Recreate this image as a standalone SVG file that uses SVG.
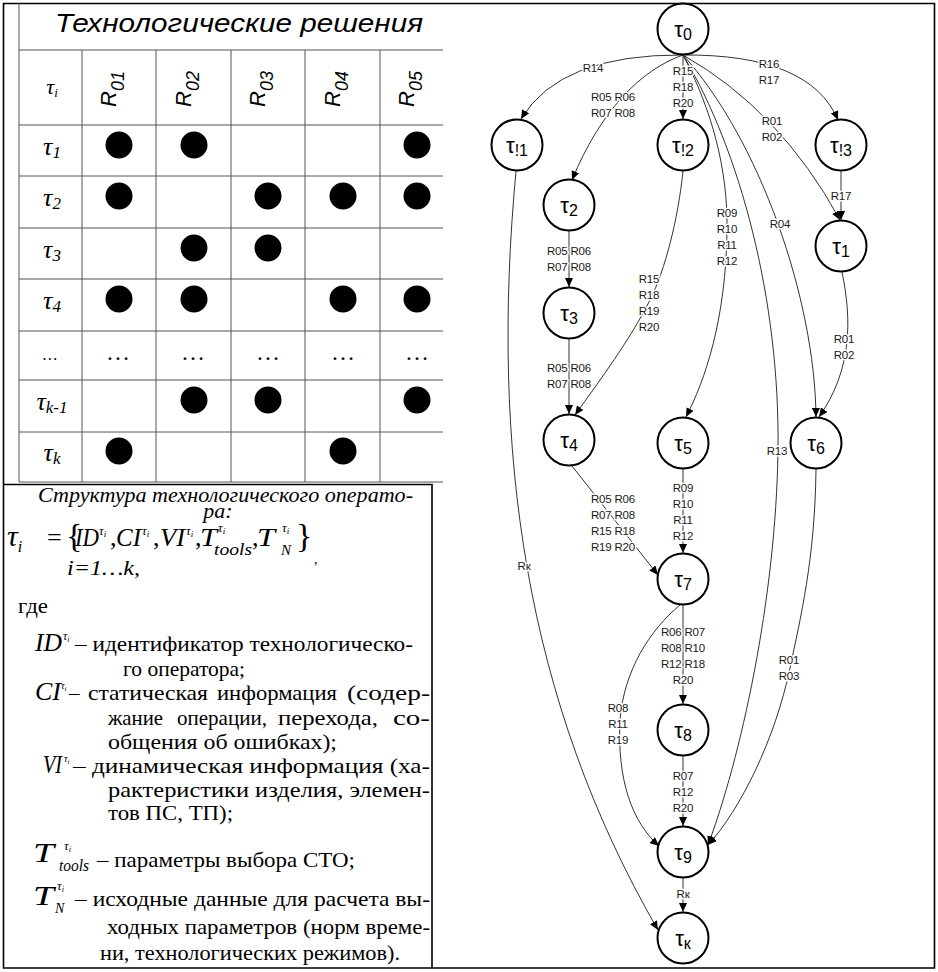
<svg xmlns="http://www.w3.org/2000/svg" width="938" height="972" viewBox="0 0 938 972">
<style>
.frame{fill:none;stroke:#000;stroke-width:1.6}
.grid{stroke:#555;stroke-width:1;fill:none}
.dot{fill:#000}
.hdr{font-family:"Liberation Sans",Arial,sans-serif;font-style:italic;fill:#000}
.rowl{font-family:"Liberation Serif","Times New Roman",serif;font-style:italic;fill:#000;text-anchor:middle}
.tm{font-family:"Liberation Serif","Times New Roman",serif;fill:#000}
.tm text{font-size:21px}
.it{font-style:italic}
.up{font-style:normal}
.node circle{fill:#fff;stroke:#000;stroke-width:2}
.node text{font-family:"Liberation Sans",Arial,sans-serif;font-size:22px;text-anchor:middle;fill:#000}
.edge{fill:none;stroke:#333;stroke-width:1;marker-end:url(#ah)}
.lbl{font-family:"Liberation Sans",Arial,sans-serif;font-size:11.5px;letter-spacing:-0.2px;text-anchor:middle;fill:#1a1a1a;paint-order:stroke;stroke:#fff;stroke-width:3px;stroke-linejoin:round}
</style>
<defs>
<marker id="ah" markerUnits="userSpaceOnUse" markerWidth="10" markerHeight="8" refX="9" refY="4" orient="auto">
<path d="M0,0 L9,4 L0,8 z" fill="#000"/>
</marker>
</defs>
<rect x="0" y="0" width="938" height="972" fill="#fff"/>

<!-- outer frame -->
<g id="frame">
<path class="frame" d="M3.5,3.5 H934.5 V968 H3.5 Z"/>
<path class="frame" d="M3.5,484.5 H432 V968"/>
</g>

<!-- table -->
<g id="table">
<text class="hdr" x="55" y="32" font-size="26" textLength="368" lengthAdjust="spacingAndGlyphs">Технологические решения</text>
<g class="grid">
<path d="M19,50 H443 M19,125 H443 M19,176 H443 M19,228 H443 M19,279 H443 M19,331 H443 M19,380 H443 M19,432 H443 M19,482 H443"/>
<path d="M19,3 V482 M82,50 V482 M156,50 V482 M231,50 V482 M305,50 V482 M380,50 V482"/>
</g>
<text class="rowl" x="52" y="94" font-size="22">τ<tspan font-size="13" dy="3">i</tspan></text>
<g class="hdr">
<text transform="translate(116,107) rotate(-90)" font-size="22">R<tspan font-size="18" dy="8">01</tspan></text>
<text transform="translate(191,107) rotate(-90)" font-size="22">R<tspan font-size="18" dy="8">02</tspan></text>
<text transform="translate(265,107) rotate(-90)" font-size="22">R<tspan font-size="18" dy="8">03</tspan></text>
<text transform="translate(340,107) rotate(-90)" font-size="22">R<tspan font-size="18" dy="8">04</tspan></text>
<text transform="translate(414,107) rotate(-90)" font-size="22">R<tspan font-size="18" dy="8">05</tspan></text>
</g>
<text class="rowl" x="52" y="155" font-size="26">τ<tspan font-size="17" dy="3">1</tspan></text>
<text class="rowl" x="52" y="206" font-size="26">τ<tspan font-size="17" dy="3">2</tspan></text>
<text class="rowl" x="52" y="258" font-size="26">τ<tspan font-size="17" dy="3">3</tspan></text>
<text class="rowl" x="52" y="309" font-size="26">τ<tspan font-size="17" dy="3">4</tspan></text>
<text class="rowl" x="50" y="360" font-size="16">…</text>
<text class="rowl" x="52" y="410" font-size="26">τ<tspan font-size="17" dy="3">k-1</tspan></text>
<text class="rowl" x="52" y="461" font-size="26">τ<tspan font-size="17" dy="3">k</tspan></text>
<g class="rowl up" font-size="24">
<text x="118" y="360">…</text><text x="193" y="360">…</text><text x="268" y="360">…</text><text x="343" y="360">…</text><text x="417" y="360">…</text>
</g>
<g class="dot">
<circle cx="119" cy="145" r="13.5"/><circle cx="194" cy="145" r="13.5"/><circle cx="417" cy="145" r="13.5"/>
<circle cx="119" cy="196" r="13.5"/><circle cx="268" cy="196" r="13.5"/><circle cx="343" cy="196" r="13.5"/><circle cx="417" cy="196" r="13.5"/>
<circle cx="194" cy="248" r="13.5"/><circle cx="268" cy="248" r="13.5"/>
<circle cx="119" cy="299" r="13.5"/><circle cx="194" cy="299" r="13.5"/><circle cx="343" cy="299" r="13.5"/><circle cx="417" cy="299" r="13.5"/>
<circle cx="194" cy="400" r="13.5"/><circle cx="268" cy="400" r="13.5"/><circle cx="417" cy="400" r="13.5"/>
<circle cx="119" cy="451" r="13.5"/><circle cx="343" cy="451" r="13.5"/>
</g>
</g>

<!-- description text -->
<g id="description" class="tm">
<text class="it" x="38" y="502" style="font-size:22px" textLength="375" lengthAdjust="spacingAndGlyphs">Структура технологического операто-</text>
<text class="it" x="218" y="518" style="font-size:22px" text-anchor="middle">ра:</text>

<text class="it" x="7" y="546" style="font-size:30px">τ<tspan font-size="16" dy="6">i</tspan></text>
<text x="47" y="546" style="font-size:26px">=</text>
<text x="66" y="547" style="font-size:34px">{</text>
<text class="it" x="75" y="546" style="font-size:26px" textLength="24" lengthAdjust="spacingAndGlyphs">ID</text>
<text class="it" x="99" y="535" style="font-size:13px">τ<tspan font-size="9" dy="2">i</tspan></text>
<text x="110" y="546" style="font-size:26px">,</text>
<text class="it" x="116" y="546" style="font-size:26px" textLength="25" lengthAdjust="spacingAndGlyphs">CI</text>
<text class="it" x="142" y="535" style="font-size:13px">τ<tspan font-size="9" dy="2">i</tspan></text>
<text x="153" y="546" style="font-size:26px">,</text>
<text class="it" x="160" y="546" style="font-size:26px" textLength="25" lengthAdjust="spacingAndGlyphs">VI</text>
<text class="it" x="186" y="535" style="font-size:13px">τ<tspan font-size="9" dy="2">i</tspan></text>
<text x="195" y="546" style="font-size:26px">,</text>
<text class="it" x="200" y="546" style="font-size:26px" textLength="17" lengthAdjust="spacingAndGlyphs">T</text>
<text class="it" x="218" y="532" style="font-size:13px">τ<tspan font-size="9" dy="2">i</tspan></text>
<text class="it" x="214" y="555" style="font-size:16px" textLength="38" lengthAdjust="spacingAndGlyphs">tools</text>
<text x="252" y="546" style="font-size:26px">,</text>
<text class="it" x="257" y="546" style="font-size:26px" textLength="18" lengthAdjust="spacingAndGlyphs">T</text>
<text class="it" x="282" y="532" style="font-size:13px">τ<tspan font-size="9" dy="2">i</tspan></text>
<text class="it" x="281" y="555" style="font-size:15px">N</text>
<text x="296" y="547" style="font-size:34px">}</text>
<text x="314" y="564" style="font-size:14px">,</text>

<text class="it" x="67" y="575" style="font-size:22px" textLength="73" lengthAdjust="spacingAndGlyphs">i=1…k,</text>
<text x="18" y="613" textLength="30" lengthAdjust="spacingAndGlyphs">где</text>

<text class="it" x="35" y="651" style="font-size:25px" textLength="27" lengthAdjust="spacingAndGlyphs">ID</text>
<text class="it" x="63" y="640" style="font-size:12px">τ<tspan font-size="8" dy="2">i</tspan></text>
<text x="75" y="651" textLength="338" lengthAdjust="spacingAndGlyphs">– идентификатор технологическо-</text>
<text x="123" y="676" textLength="122" lengthAdjust="spacingAndGlyphs">го оператора;</text>

<text class="it" x="35" y="700" style="font-size:25px" textLength="26" lengthAdjust="spacingAndGlyphs">CI</text>
<text class="it" x="61" y="689" style="font-size:10px">τ<tspan font-size="7" dy="2">i</tspan></text>
<text x="69" y="700">–</text>
<text x="88" y="700" textLength="120" lengthAdjust="spacingAndGlyphs">статическая</text>
<text x="217" y="700" textLength="120" lengthAdjust="spacingAndGlyphs">информация</text>
<text x="347" y="700" textLength="83" lengthAdjust="spacingAndGlyphs">(содер-</text>
<text x="108" y="725" textLength="55" lengthAdjust="spacingAndGlyphs">жание</text>
<text x="177" y="725" textLength="90" lengthAdjust="spacingAndGlyphs">операции,</text>
<text x="278" y="725" textLength="100" lengthAdjust="spacingAndGlyphs">перехода,</text>
<text x="393" y="725" textLength="37" lengthAdjust="spacingAndGlyphs">со-</text>
<text x="108" y="749" textLength="229" lengthAdjust="spacingAndGlyphs">общения об ошибках);</text>

<text class="it" x="43" y="773" style="font-size:25px" textLength="19" lengthAdjust="spacingAndGlyphs">VI</text>
<text class="it" x="64" y="762" style="font-size:10px">τ<tspan font-size="7" dy="2">i</tspan></text>
<text x="73" y="773" textLength="357" lengthAdjust="spacingAndGlyphs">– динамическая информация (ха-</text>
<text x="108" y="797" textLength="322" lengthAdjust="spacingAndGlyphs">рактеристики изделия, элемен-</text>
<text x="108" y="820" textLength="125" lengthAdjust="spacingAndGlyphs">тов ПС, ТП);</text>

<text class="it" x="33" y="862" style="font-size:27px" textLength="21" lengthAdjust="spacingAndGlyphs">T</text>
<text class="it" x="64" y="850" style="font-size:13px">τ<tspan font-size="8" dy="2">i</tspan></text>
<text class="it" x="59" y="871" style="font-size:17px" textLength="30" lengthAdjust="spacingAndGlyphs">tools</text>
<text x="97" y="867" textLength="258" lengthAdjust="spacingAndGlyphs">– параметры выбора СТО;</text>

<text class="it" x="33" y="905" style="font-size:27px" textLength="21" lengthAdjust="spacingAndGlyphs">T</text>
<text class="it" x="57" y="890" style="font-size:13px">τ<tspan font-size="8" dy="2">i</tspan></text>
<text class="it" x="55" y="913" style="font-size:14px">N</text>
<text x="75" y="906" textLength="355" lengthAdjust="spacingAndGlyphs">– исходные данные для расчета вы-</text>
<text x="107" y="934" textLength="323" lengthAdjust="spacingAndGlyphs">ходных параметров (норм време-</text>
<text x="100" y="960" textLength="300" lengthAdjust="spacingAndGlyphs">ни, технологических режимов).</text>
</g>

<!-- connectors -->
<g id="connectors">
<path class="edge" d="M683,55 Q560,54 521,119"/>
<path class="edge" d="M683,55 C640,70 600,112 572,180"/>
<path class="edge" d="M683,55 L683,119"/>
<path class="edge" d="M683,55 Q810,54 838,120"/>
<path class="edge" d="M683,55 Q780,110 840,220"/>
<path class="edge" d="M841,171 L841,220"/>
<path class="edge" d="M683,55 C712,110 728,170 727,230 C726,320 705,380 686,417"/>
<path class="edge" d="M683,55 C760,140 815,300 816,417"/>
<path class="edge" d="M683,55 C740,150 780,300 778,450 C776,600 740,760 708,845"/>
<path class="edge" d="M516,171 C490,450 525,700 658,930"/>
<path class="edge" d="M569,231 L569,287"/>
<path class="edge" d="M683,171 C678,220 665,270 650,300 C630,340 600,380 575,415"/>
<path class="edge" d="M569,339 L569,414"/>
<path class="edge" d="M842,272 C852,320 852,370 819,417"/>
<path class="edge" d="M572,466 L658,575"/>
<path class="edge" d="M683,469 L683,553"/>
<path class="edge" d="M683,605 L683,704"/>
<path class="edge" d="M680,605 C650,630 624,670 620,720 C617,780 632,822 659,846"/>
<path class="edge" d="M816,469 C815,560 800,620 790,668 C775,740 740,810 708,845"/>
<path class="edge" d="M683,756 L683,826"/>
<path class="edge" d="M683,878 L683,912"/>

<g class="lbl">
<text x="593" y="72">R14</text>
<text x="613" y="101">R05 R06</text><text x="613" y="117">R07 R08</text>
<text x="683" y="75">R15</text><text x="683" y="91">R18</text><text x="683" y="107">R20</text>
<text x="769" y="68">R16</text><text x="769" y="84">R17</text>
<text x="772" y="125">R01</text><text x="772" y="141">R02</text>
<text x="841" y="200">R17</text>
<text x="727" y="217">R09</text><text x="727" y="233">R10</text><text x="727" y="249">R11</text><text x="727" y="265">R12</text>
<text x="780" y="228">R04</text>
<text x="569" y="255">R05 R06</text><text x="569" y="271">R07 R08</text>
<text x="649" y="283">R15</text><text x="649" y="299">R18</text><text x="649" y="315">R19</text><text x="649" y="331">R20</text>
<text x="569" y="372">R05 R06</text><text x="569" y="388">R07 R08</text>
<text x="844" y="343">R01</text><text x="844" y="359">R02</text>
<text x="777" y="455">R13</text>
<text x="524" y="570">Rк</text>
<text x="613" y="503">R05 R06</text><text x="613" y="519">R07 R08</text><text x="613" y="535">R15 R18</text><text x="613" y="551">R19 R20</text>
<text x="683" y="492">R09</text><text x="683" y="508">R10</text><text x="683" y="524">R11</text><text x="683" y="540">R12</text>
<text x="683" y="636">R06 R07</text><text x="683" y="652">R08 R10</text><text x="683" y="668">R12 R18</text><text x="683" y="684">R20</text>
<text x="789" y="664">R01</text><text x="789" y="680">R03</text>
<text x="618" y="712">R08</text><text x="618" y="728">R11</text><text x="618" y="744">R19</text>
<text x="683" y="780">R07</text><text x="683" y="796">R12</text><text x="683" y="812">R20</text>
<text x="683" y="898">Rк</text>
</g>
</g>

<!-- nodes -->
<g id="n-t0" class="node"><circle cx="683" cy="29" r="25.5"/><text x="683" y="37">τ<tspan font-size="16" dy="3">0</tspan></text></g>
<g id="n-t!1" class="node"><circle cx="517" cy="145" r="25.5"/><text x="517" y="153">τ<tspan font-size="16" dy="3">!1</tspan></text></g>
<g id="n-t!2" class="node"><circle cx="683" cy="145" r="25.5"/><text x="683" y="153">τ<tspan font-size="16" dy="3">!2</tspan></text></g>
<g id="n-t!3" class="node"><circle cx="841" cy="145" r="25.5"/><text x="841" y="153">τ<tspan font-size="16" dy="3">!3</tspan></text></g>
<g id="n-t2" class="node"><circle cx="569" cy="205" r="25.5"/><text x="569" y="213">τ<tspan font-size="16" dy="3">2</tspan></text></g>
<g id="n-t1" class="node"><circle cx="841" cy="246" r="25.5"/><text x="841" y="254">τ<tspan font-size="16" dy="3">1</tspan></text></g>
<g id="n-t3" class="node"><circle cx="569" cy="313" r="25.5"/><text x="569" y="321">τ<tspan font-size="16" dy="3">3</tspan></text></g>
<g id="n-t4" class="node"><circle cx="569" cy="440" r="25.5"/><text x="569" y="448">τ<tspan font-size="16" dy="3">4</tspan></text></g>
<g id="n-t5" class="node"><circle cx="683" cy="443" r="25.5"/><text x="683" y="451">τ<tspan font-size="16" dy="3">5</tspan></text></g>
<g id="n-t6" class="node"><circle cx="816" cy="443" r="25.5"/><text x="816" y="451">τ<tspan font-size="16" dy="3">6</tspan></text></g>
<g id="n-t7" class="node"><circle cx="683" cy="579" r="25.5"/><text x="683" y="587">τ<tspan font-size="16" dy="3">7</tspan></text></g>
<g id="n-t8" class="node"><circle cx="683" cy="730" r="25.5"/><text x="683" y="738">τ<tspan font-size="16" dy="3">8</tspan></text></g>
<g id="n-t9" class="node"><circle cx="683" cy="852" r="25.5"/><text x="683" y="860">τ<tspan font-size="16" dy="3">9</tspan></text></g>
<g id="n-tk" class="node"><circle cx="683" cy="938" r="25.5"/><text x="683" y="946">τ<tspan font-size="16" dy="3">к</tspan></text></g>
</svg>
